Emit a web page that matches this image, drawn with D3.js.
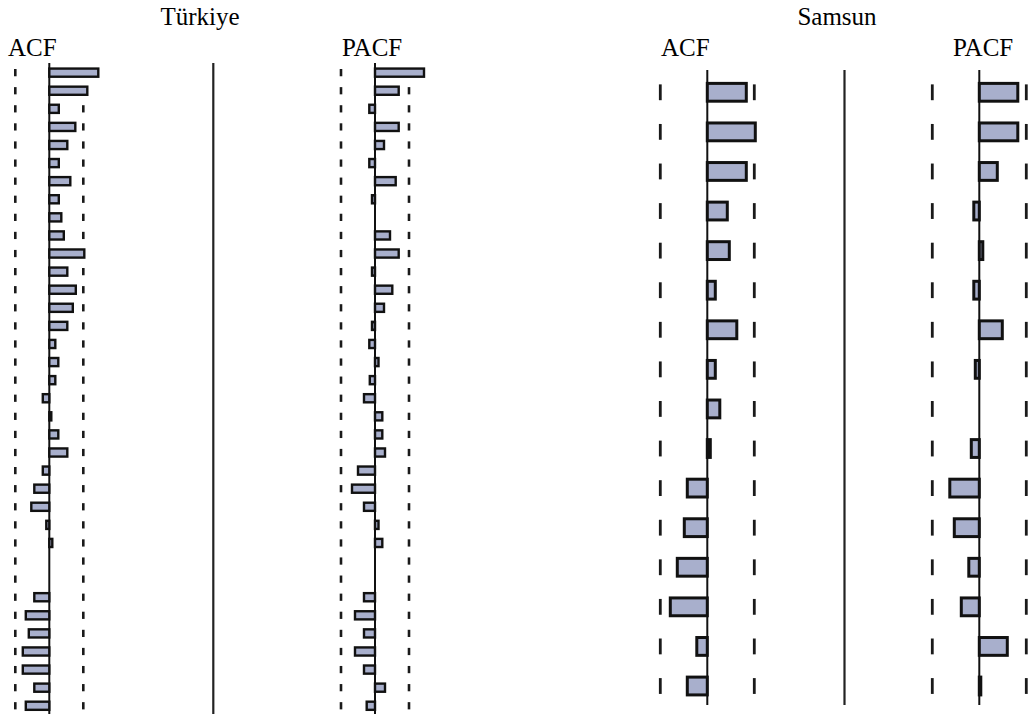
<!DOCTYPE html>
<html>
<head>
<meta charset="utf-8">
<script src="https://cdn.jsdelivr.net/npm/d3@7"></script>
<style>
  html, body { margin: 0; padding: 0; background: #ffffff; }
  svg { display: block; }
  text { font-family: "Liberation Serif", "Times New Roman", serif; fill: #000; }
</style>
</head>
<body>
<svg id="chart" width="1028" height="719"></svg>
<script>
// Correlogram data: autocorrelation (ACF) and partial autocorrelation (PACF) by lag
const regions = ["Türkiye", "Samsun"];
const panelLabels = ["ACF", "PACF"];

const lagsTurkiye = d3.range(1, 37);
const acfTurkiye = [0.49, 0.38, 0.095, 0.26, 0.18, 0.095, 0.21, 0.095, 0.12, 0.145,
                    0.35, 0.18, 0.265, 0.235, 0.18, 0.06, 0.09, 0.06, -0.065, 0.02,
                    0.09, 0.18, -0.065, -0.15, -0.18, -0.03, 0.03, 0, 0, -0.15,
                    -0.235, -0.205, -0.265, -0.265, -0.15, -0.235];
const pacfTurkiye = [0.49, 0.237, -0.057, 0.237, 0.09, -0.057, 0.207, -0.03, 0, 0.15,
                     0.237, -0.03, 0.173, 0.09, -0.03, -0.057, 0.035, -0.052, -0.11, 0.073,
                     0.073, 0.10, -0.17, -0.23, -0.11, 0.035, 0.073, 0, 0, -0.11,
                     -0.20, -0.11, -0.20, -0.11, 0.10, -0.083];
const boundTurkiye = 0.34;

const lagsSamsun = d3.range(1, 17);
const acfSamsun = [0.39, 0.48, 0.39, 0.20, 0.22, 0.08, 0.295, 0.08, 0.125, 0.03,
                   -0.20, -0.23, -0.30, -0.37, -0.105, -0.20];
const pacfSamsun = [0.385, 0.385, 0.18, -0.055, 0.035, -0.055, 0.23, -0.04, 0, -0.08,
                    -0.295, -0.25, -0.105, -0.18, 0.28, 0.015];
const boundSamsun = 0.47;

// Page layout for the two correlogram blocks
const layout = [
  { name: regions[0], lags: lagsTurkiye, series: [acfTurkiye, pacfTurkiye], bound: boundTurkiye,
    titleX: 200, centers: [49.3, 375], labelX: [8, 342], separatorX: 213.3,
    band: [63.6, 714.8], axisY: [63, 714], stroke: 2.4, dashW: 2.6 },
  { name: regions[1], lags: lagsSamsun, series: [acfSamsun, pacfSamsun], bound: boundSamsun,
    titleX: 837, centers: [707.3, 979.3], labelX: [661, 953], separatorX: 844.5,
    band: [72.5, 705.8], axisY: [70, 705], stroke: 3, dashW: 2.8 }
];

const svg = d3.select("#chart");
const pxPerUnit = 100;
const barFill = "#a8afcc";
const ink = "#111111";

layout.forEach(block => {
  const g = svg.append("g");

  g.append("text")
    .attr("x", block.titleX).attr("y", 25)
    .attr("text-anchor", "middle")
    .style("font-size", "25px")
    .text(block.name);

  const y = d3.scalePoint().domain(block.lags).range(block.band).padding(0.5);
  const step = y.step();
  const barH = step * 0.45;
  const dashH = step * 0.4;

  // Divider between the ACF and PACF columns
  g.append("line")
    .attr("x1", block.separatorX).attr("x2", block.separatorX)
    .attr("y1", block.axisY[0]).attr("y2", block.axisY[1])
    .attr("stroke", "#222").attr("stroke-width", 2.2);

  block.series.forEach((values, k) => {
    const c = block.centers[k];
    const x = d3.scaleLinear().domain([-1, 1]).range([c - pxPerUnit, c + pxPerUnit]);
    const data = block.lags.map((lag, i) => ({ lag, value: values[i] }));
    const sub = g.append("g");

    sub.append("text")
      .attr("x", block.labelX[k]).attr("y", 56)
      .style("font-size", "25px")
      .text(panelLabels[k]);

    // Confidence bounds, one short dash per lag
    [-block.bound, block.bound].forEach(b => {
      sub.append("g").selectAll("line")
        .data(block.lags)
        .join("line")
        .attr("x1", x(b)).attr("x2", x(b))
        .attr("y1", d => y(d) - dashH / 2)
        .attr("y2", d => y(d) + dashH / 2)
        .attr("stroke", "#1a1a1a")
        .attr("stroke-width", block.dashW);
    });

    // Zero axis
    sub.append("line")
      .attr("x1", x(0)).attr("x2", x(0))
      .attr("y1", block.axisY[0]).attr("y2", block.axisY[1])
      .attr("stroke", ink).attr("stroke-width", 2);

    // Correlation bars
    sub.append("g").selectAll("rect")
      .data(data.filter(d => d.value !== 0))
      .join("rect")
      .attr("x", d => Math.min(x(0), x(d.value)))
      .attr("width", d => Math.abs(x(d.value) - x(0)))
      .attr("y", d => y(d.lag) - barH / 2)
      .attr("height", barH)
      .attr("fill", barFill)
      .attr("stroke", ink)
      .attr("stroke-width", block.stroke);
  });
});
</script>
</body>
</html>
